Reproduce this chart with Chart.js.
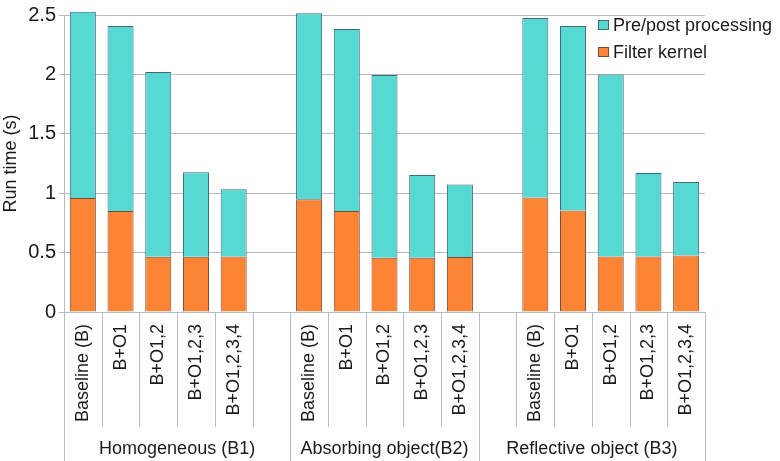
<!DOCTYPE html>
<html>
<head>
<meta charset="utf-8">
<script src="https://cdn.jsdelivr.net/npm/chart.js@4/dist/chart.umd.min.js"></script>
<style>
html,body{margin:0;padding:0;background:#fff;}
#wrap{width:780px;height:461px;position:relative;}
</style>
</head>
<body>
<div id="wrap"><canvas id="c" width="780" height="461"></canvas></div>
<script>
const categories = ['Baseline (B)','B+O1','B+O1,2','B+O1,2,3','B+O1,2,3,4','',
                    'Baseline (B)','B+O1','B+O1,2','B+O1,2,3','B+O1,2,3,4',
                    '','Baseline (B)','B+O1','B+O1,2','B+O1,2,3','B+O1,2,3,4'];
const groupOf = [0,0,0,0,0,0, 1,1,1,1,1, 2,2,2,2,2,2];
const groupLabels = ['Homogeneous (B1)','Absorbing object(B2)','Reflective object (B3)'];
const filterKernel = [0.96,0.85,0.465,0.465,0.468,null,
                      0.95,0.85,0.456,0.456,0.462,
                      null,0.963,0.855,0.468,0.468,0.476];
const prePost = [1.567,1.557,1.555,0.712,0.566,null,
                 1.564,1.532,1.538,0.697,0.611,
                 null,1.512,1.552,1.532,0.701,0.619];
const yTicks = [0,0.5,1,1.5,2,2.5];

const teal = '#57d8d2', orange = '#fd8434';
const FONT = 'Liberation Sans, Arial, Helvetica, sans-serif';
const lineCol = '#b3bdc3';

const decor = {
  id:'decor',
  afterDraw(chart){
    const ctx = chart.ctx, xs = chart.scales.x, ca = chart.chartArea;
    const n = categories.length;
    const bounds = [];
    for(let i=0;i<=n;i++){
      let x;
      if(i===0) x = xs.left;
      else if(i===n) x = xs.right;
      else x = (xs.getPixelForValue(i-1)+xs.getPixelForValue(i))/2;
      bounds.push(x);
    }
    ctx.save();
    ctx.strokeStyle = lineCol; ctx.lineWidth = 1;
    for(let i=0;i<=n;i++){
      const isGroup = (i===0||i===n||groupOf[i]!==groupOf[i-1]);
      const x = Math.round(bounds[i])+0.5;
      ctx.beginPath();
      ctx.moveTo(x, ca.bottom);
      ctx.lineTo(x, isGroup ? chart.height : ca.bottom+115);
      ctx.stroke();
    }
    ctx.fillStyle = '#1a1a1a';
    ctx.font = '18px '+FONT;
    ctx.textAlign = 'center'; ctx.textBaseline = 'middle';
    groupLabels.forEach((g,gi)=>{
      const idx = groupOf.map((v,i)=>v===gi?i:-1).filter(i=>i>=0);
      const x0 = bounds[idx[0]], x1 = bounds[idx[idx.length-1]+1];
      ctx.fillText(g,(x0+x1)/2, ca.bottom+137);
    });
    const items = [chart.data.datasets[1], chart.data.datasets[0]];
    const lx = 598, ly = [25, 52];
    items.forEach((ds,k)=>{
      ctx.fillStyle = ds.backgroundColor;
      ctx.fillRect(lx, ly[k]-5, 11, 10);
      ctx.strokeStyle = ds.borderColor; ctx.lineWidth = 1;
      ctx.strokeRect(lx+0.5, ly[k]-4.5, 10, 9);
      ctx.fillStyle = '#1a1a1a';
      ctx.textAlign = 'left'; ctx.textBaseline = 'middle';
      ctx.font = '18px '+FONT;
      ctx.fillText(ds.label, lx+15, ly[k]+1);
    });
    ctx.restore();
  }
};

new Chart(document.getElementById('c'), {
  type:'bar',
  data:{
    labels: categories,
    datasets:[
      {label:'Filter kernel', data: filterKernel, backgroundColor: orange, borderColor:'#7a4a34', borderWidth:1, clip:false,
       barPercentage:0.69, categoryPercentage:1},
      {label:'Pre/post processing', data: prePost, backgroundColor: teal, borderColor:'#3d6a7a', borderWidth:1, clip:false,
       barPercentage:0.69, categoryPercentage:1}
    ]
  },
  options:{
    responsive:false, animation:false,
    layout:{padding:{top:9,right:75,left:0,bottom:0}},
    plugins:{legend:{display:false}, tooltip:{enabled:false}},
    scales:{
      x:{
        stacked:true,
        grid:{display:false},
        border:{display:false},
        ticks:{font:{size:18,family:FONT}, color:'#1a1a1a', minRotation:90, maxRotation:90, autoSkip:false, padding:4},
        afterFit(s){ s.height = 149; }
      },
      y:{
        stacked:true, min:0, max:2.5,
        afterBuildTicks(s){ s.ticks = yTicks.map(v=>({value:v})); },
        grid:{color:lineCol, tickLength:5},
        border:{display:true, color:lineCol},
        ticks:{font:{size:20,family:FONT}, color:'#1a1a1a', padding:3, callback:(v)=>String(v)},
        title:{display:true, text:'Run time (s)', font:{size:18,family:FONT}, color:'#1a1a1a', padding:{top:0,bottom:4}},
        afterFit(s){ s.width = 64; }
      }
    }
  },
  plugins:[decor]
});
</script>
</body>
</html>
